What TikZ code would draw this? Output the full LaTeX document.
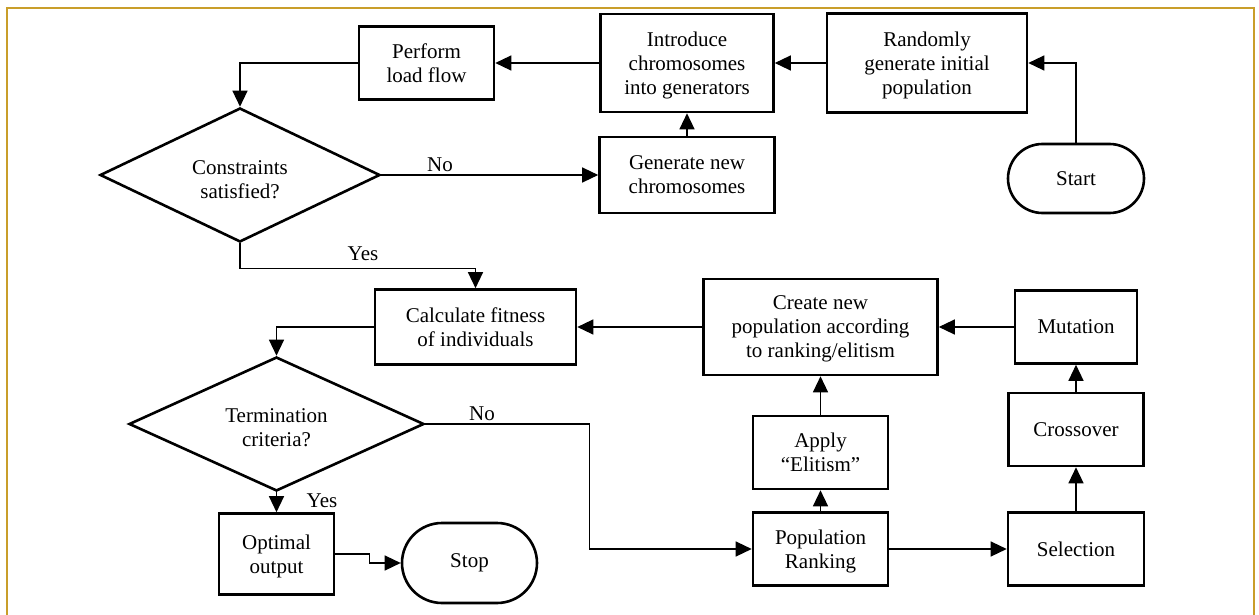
\documentclass[tikz,border=0pt]{standalone}
\usepackage{fontspec}
\setmainfont{Liberation Serif}
\usetikzlibrary{shapes.geometric,shapes.misc,arrows.meta}
\definecolor{framegold}{RGB}{201,158,42}
\begin{document}
\begin{tikzpicture}[x=1pt,y=-1pt,
  every node/.style={font=\fontsize{21}{24}\selectfont},
  box/.style={draw,line width=2.6pt,align=center,inner sep=0pt,text depth=0pt},
  dec/.style={draw,diamond,aspect=2,line width=2.6pt,inner sep=0pt},
  dectext/.style={align=center,inner sep=0pt},
  termbox/.style={draw,rounded rectangle,line width=2.6pt,inner sep=0pt},
  arr/.style={line width=1.3pt,-{Triangle[length=16pt,width=15pt]}},
  lbl/.style={inner sep=0pt}
]
\useasboundingbox (0,0) rectangle (1259,615);
% open frame (top, left and right sides only)
\draw[framegold,line width=2pt] (7,615) -- (7,8.5) -- (1254,8.5) -- (1254,615);

% upper part: initial population and constraint check
\node[termbox,minimum width=136pt,minimum height=69pt] (start) at (1076,178.5) {Start};
\node[box,minimum width=200pt,minimum height=99pt] (rand) at (927,63) {Randomly\\generate initial\\population};
\node[box,minimum width=173pt,minimum height=98pt] (intro) at (687,63) {Introduce\\chromosomes\\into generators};
\node[box,minimum width=135pt,minimum height=73pt] (perform) at (426.5,63) {Perform\\load flow};
\node[box,minimum width=175pt,minimum height=76pt] (gen) at (687,175) {Generate new\\chromosomes};
\node[dec,minimum width=280pt,minimum height=134pt] (cons) at (240,175) {};
\node[dectext] (constxt) at (240,180) {Constraints\\satisfied?};

% lower part: fitness evaluation and GA loop
\node[box,minimum width=201pt,minimum height=75pt] (calc) at (475.5,327) {Calculate fitness\\of individuals};
\node[box,minimum width=234pt,minimum height=96pt] (create) at (820.5,327) {Create new\\population according\\to ranking/elitism};
\node[box,minimum width=122pt,minimum height=73pt] (mut) at (1076,327) {Mutation};
\node[dec,minimum width=295pt,minimum height=134pt] (term) at (276.5,424) {};
\node[dectext] (termtxt) at (276.5,428) {Termination\\criteria?};
\node[box,minimum width=135pt,minimum height=73pt] (cross) at (1076,429.5) {Crossover};
\node[box,minimum width=135pt,minimum height=73pt] (elit) at (820.5,452.5) {Apply\\“Elitism”};
\node[box,minimum width=115pt,minimum height=81pt] (opt) at (276.5,554) {Optimal\\output};
\node[termbox,minimum width=135pt,minimum height=80pt] (stop) at (469.5,563) {Stop};
\node[box,minimum width=135pt,minimum height=73pt] (rank) at (820.5,549) {Population\\Ranking};
\node[box,minimum width=136pt,minimum height=73pt] (sel) at (1076,549) {Selection};

% connectors
\draw[arr] (start.north) |- (rand.east);
\draw[arr] (rand.west) -- (intro.east);
\draw[arr] (intro.west) -- (perform.east);
\draw[arr] (perform.west) -| (cons.north);
\draw[arr] (cons.east) -- (gen.west);
\draw[arr] (gen.north) -- (intro.south);
\draw[arr] (cons.south) -- ++(0,25) -| (calc.north);
\draw[arr] (calc.west) -| (term.north);
\draw[arr] (term.south) -- (opt.north);
\draw[arr] (opt.east) -- ++(34,0) |- (stop.west);
\draw[arr] (term.east) -- ++(164,0) |- (rank.west);
\draw[arr] (rank.north) -- (elit.south);
\draw[arr] (elit.north) -- (create.south);
\draw[arr] (rank.east) -- (sel.west);
\draw[arr] (sel.north) -- (cross.south);
\draw[arr] (cross.north) -- (mut.south);
\draw[arr] (mut.west) -- (create.east);
\draw[arr] (create.west) -- (calc.east);

% branch labels
\node[lbl] (no1) at (440,165) {No};
\node[lbl] (yes1) at (363,254) {Yes};
\node[lbl] (no2) at (482,414) {No};
\node[lbl] (yes2) at (322,501) {Yes};
\end{tikzpicture}
\end{document}
